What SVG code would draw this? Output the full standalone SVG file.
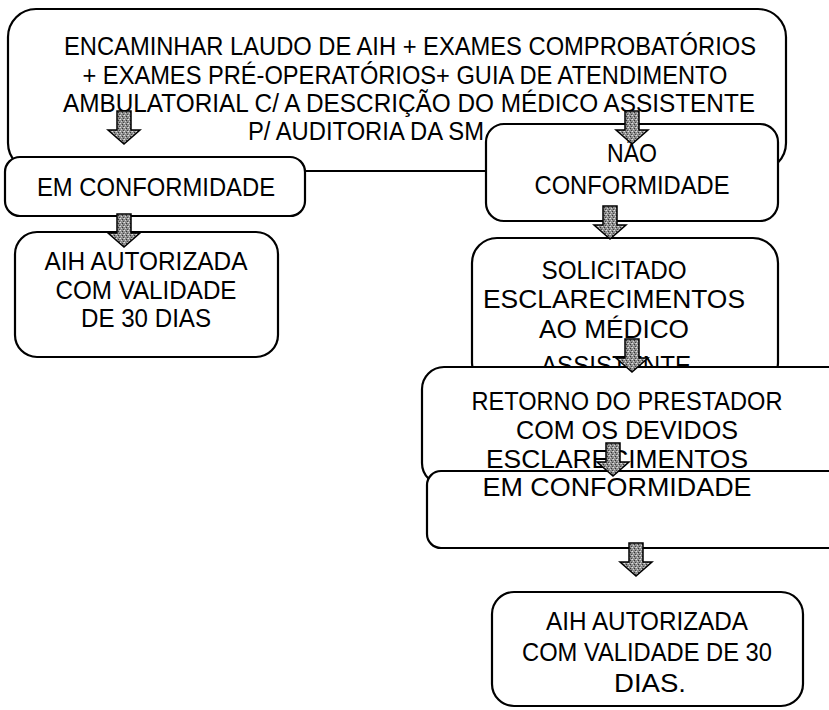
<svg xmlns="http://www.w3.org/2000/svg" width="829" height="710" viewBox="0 0 829 710">
<style>
.box{fill:#fff;stroke:#000;stroke-width:2.2}
.t{font-family:"Liberation Sans",Arial,sans-serif;font-size:25px;fill:#000;text-anchor:middle}
.tn{font-family:"Liberation Sans",Arial,sans-serif;font-size:26px;fill:#000;text-anchor:middle}
.arr{fill:url(#dots);stroke:#000;stroke-width:1.5;stroke-linejoin:miter}
</style>
<defs>
<pattern id="dots" width="4" height="4" patternUnits="userSpaceOnUse">
<rect width="4" height="4" fill="#8c8c8c"/>
<rect x="0" y="0" width="1" height="1" fill="#e0e0e0"/>
<rect x="2" y="1" width="1" height="1" fill="#333"/>
<rect x="1" y="2" width="1" height="1" fill="#d0d0d0"/>
<rect x="3" y="3" width="1" height="1" fill="#444"/>
<rect x="3" y="0" width="1" height="1" fill="#bbb"/>
</pattern>
<path id="ar" d="M-7,0 H7 V19 H16 L0,33 L-16,19 H-7 Z"/>
</defs>

<g id="n-encaminhar">
<rect class="box" x="8" y="9" width="778" height="162" rx="28"/>
<text class="tn" x="410" y="55" textLength="692" lengthAdjust="spacingAndGlyphs">ENCAMINHAR LAUDO DE AIH + EXAMES COMPROBATÓRIOS</text>
<text class="tn" x="405" y="84" textLength="645" lengthAdjust="spacingAndGlyphs">+ EXAMES PRÉ-OPERATÓRIOS+ GUIA DE ATENDIMENTO</text>
<text class="tn" x="409" y="112" textLength="692" lengthAdjust="spacingAndGlyphs">AMBULATORIAL C/ A DESCRIÇÃO DO MÉDICO ASSISTENTE</text>
<text class="tn" x="248" y="140" style="text-anchor:start" textLength="236" lengthAdjust="spacingAndGlyphs">P/ AUDITORIA DA SM</text>
</g>

<g id="n-nao">
<rect class="box" x="486" y="124" width="292" height="97" rx="18"/>
<text class="t" x="632" y="162" textLength="50" lengthAdjust="spacingAndGlyphs">NÃO</text>
<text class="t" x="632" y="194" textLength="195" lengthAdjust="spacingAndGlyphs">CONFORMIDADE</text>
</g>

<g id="n-emconf1">
<rect class="box" x="5" y="157" width="300" height="59" rx="15"/>
<text class="t" x="156" y="196" textLength="238" lengthAdjust="spacingAndGlyphs">EM CONFORMIDADE</text>
</g>

<g id="n-aih1">
<rect class="box" x="15" y="232" width="263" height="125" rx="22"/>
<text class="t" x="146" y="270" textLength="203" lengthAdjust="spacingAndGlyphs">AIH AUTORIZADA</text>
<text class="t" x="146" y="299" textLength="181" lengthAdjust="spacingAndGlyphs">COM VALIDADE</text>
<text class="t" x="146" y="327" textLength="130" lengthAdjust="spacingAndGlyphs">DE 30 DIAS</text>
</g>

<g id="n-solicitado">
<rect class="box" x="472" y="238" width="306" height="150" rx="25"/>
<text class="t" x="614" y="279" textLength="145" lengthAdjust="spacingAndGlyphs">SOLICITADO</text>
<text class="t" x="614" y="308" textLength="262" lengthAdjust="spacingAndGlyphs">ESCLARECIMENTOS</text>
<text class="t" x="614" y="338" textLength="150" lengthAdjust="spacingAndGlyphs">AO MÉDICO</text>
<text class="t" x="616" y="374" textLength="150" lengthAdjust="spacingAndGlyphs">ASSISTENTE</text>
</g>

<g id="n-retorno">
<rect class="box" x="422" y="367" width="430" height="118" rx="22"/>
<text class="t" x="627" y="410" textLength="311" lengthAdjust="spacingAndGlyphs">RETORNO DO PRESTADOR</text>
<text class="t" x="627" y="439" textLength="222" lengthAdjust="spacingAndGlyphs">COM OS DEVIDOS</text>
<text class="t" x="617" y="468" textLength="262" lengthAdjust="spacingAndGlyphs">ESCLARECIMENTOS</text>
</g>

<g id="n-emconf2">
<rect class="box" x="427" y="471" width="420" height="77" rx="14"/>
<text class="t" x="617" y="496" textLength="269" lengthAdjust="spacingAndGlyphs">EM CONFORMIDADE</text>
</g>

<g id="n-aih2">
<rect class="box" x="492" y="592" width="311" height="114" rx="22"/>
<text class="t" x="647" y="630" textLength="202" lengthAdjust="spacingAndGlyphs">AIH AUTORIZADA</text>
<text class="t" x="647" y="661" textLength="250" lengthAdjust="spacingAndGlyphs">COM VALIDADE DE 30</text>
<text class="t" x="650" y="692" textLength="72" lengthAdjust="spacingAndGlyphs">DIAS.</text>
</g>

<g id="connectors">
<use href="#ar" class="arr" x="124" y="111"/>
<use href="#ar" class="arr" x="632" y="111"/>
<use href="#ar" class="arr" x="124" y="214"/>
<use href="#ar" class="arr" x="610" y="206"/>
<use href="#ar" class="arr" x="632" y="339"/>
<use href="#ar" class="arr" x="613" y="443"/>
<use href="#ar" class="arr" x="636" y="543"/>
</g>
</svg>
